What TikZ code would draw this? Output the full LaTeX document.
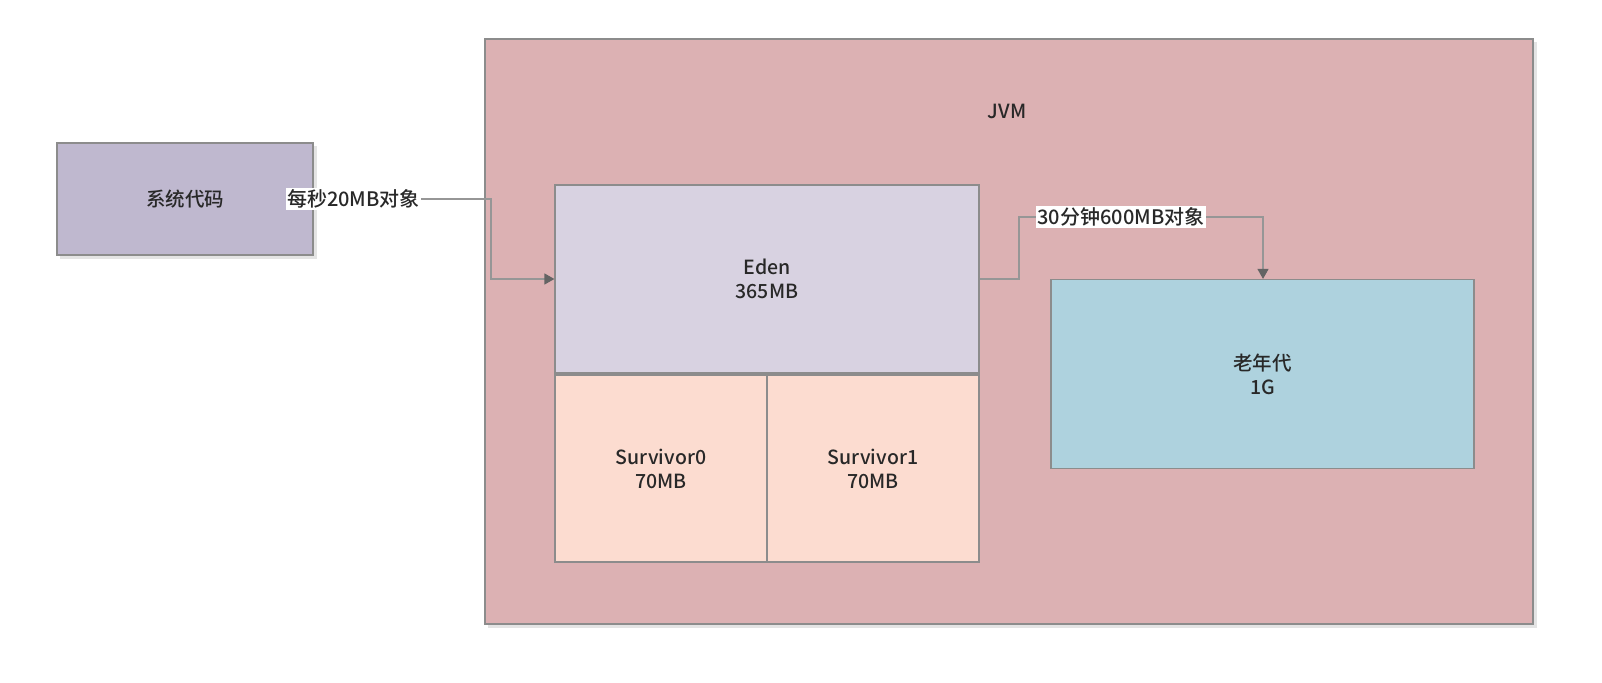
\documentclass[tikz,border=0pt]{standalone}
\usepackage{fontspec}
\setmainfont{Noto Sans CJK SC}[UprightFont={* Medium}]
\usetikzlibrary{arrows.meta}
\definecolor{jvmfill}{RGB}{220,177,179}
\definecolor{edenfill}{RGB}{216,210,225}
\definecolor{survfill}{RGB}{252,220,208}
\definecolor{oldfill}{RGB}{174,210,222}
\definecolor{codefill}{RGB}{191,184,207}
\definecolor{edge}{RGB}{140,140,140}
\definecolor{wire}{RGB}{150,150,150}
\definecolor{tip}{RGB}{100,100,100}
\definecolor{txt}{RGB}{40,40,40}
\definecolor{shade}{RGB}{228,228,228}
\tikzset{
  box/.style={draw=edge, line width=1.2pt, text=txt, font=\fontsize{19.5}{24}\selectfont, align=center},
  shd/.style={fill=shade, draw=none},
  wirel/.style={draw=wire, line width=1.3pt, -{Triangle[length=10pt,width=11pt,color=tip]}},
  lbl/.style={fill=white, text=txt, inner sep=1.5pt, font=\fontsize{20}{24}\selectfont},
}
\begin{document}
\begin{tikzpicture}[x=1pt,y=-1pt]
\useasboundingbox (0,0) rectangle (1602,682);
% shadows
\fill[shd] (488,42) rectangle (1537,628);
\fill[shd] (60,146) rectangle (317,259);
\fill[shd] (558,378) rectangle (982,566);
% JVM
\draw[box, fill=jvmfill] (485,39) rectangle (1533,624);
\node[text=txt, font=\fontsize{19.5}{24}\selectfont] (jvm) at (1007,111) {JVM};
% system code
\node[box, fill=codefill, minimum width=256pt, minimum height=112pt, inner sep=0pt] (code) at (185,199) {系统代码};
% Eden
\node[box, fill=edenfill, minimum width=424pt, minimum height=188pt, inner sep=0pt] (eden) at (767,279) {Eden\\365MB};
% survivors
\node[box, fill=survfill, minimum width=212pt, minimum height=187pt, inner sep=0pt] (s0) at (661,468.5) {Survivor0\\70MB};
\node[box, fill=survfill, minimum width=212pt, minimum height=187pt, inner sep=0pt] (s1) at (873,468.5) {Survivor1\\70MB};
% old gen
\node[box, fill=oldfill, minimum width=423pt, minimum height=189pt, inner sep=0pt] (old) at (1262.5,374) {老年代\\1G};
% connectors
\coordinate (c1) at (491,199);
\coordinate (c2) at (491,279);
\draw[wirel] (code.east |- c1) -- (c1) -- (c2) -- (eden.west |- c2);
\node[lbl] (l1) at (353.5,199) {每秒20MB对象};
\coordinate (d1) at (1019,279);
\coordinate (d2) at (1019,217);
\coordinate (d3) at (1263,217);
\draw[wirel] (eden.east |- d1) -- (d1) -- (d2) -- (d3) -- (d3 |- old.north);
\node[lbl] (l2) at (1121,217) {30分钟600MB对象};
\end{tikzpicture}
\end{document}
